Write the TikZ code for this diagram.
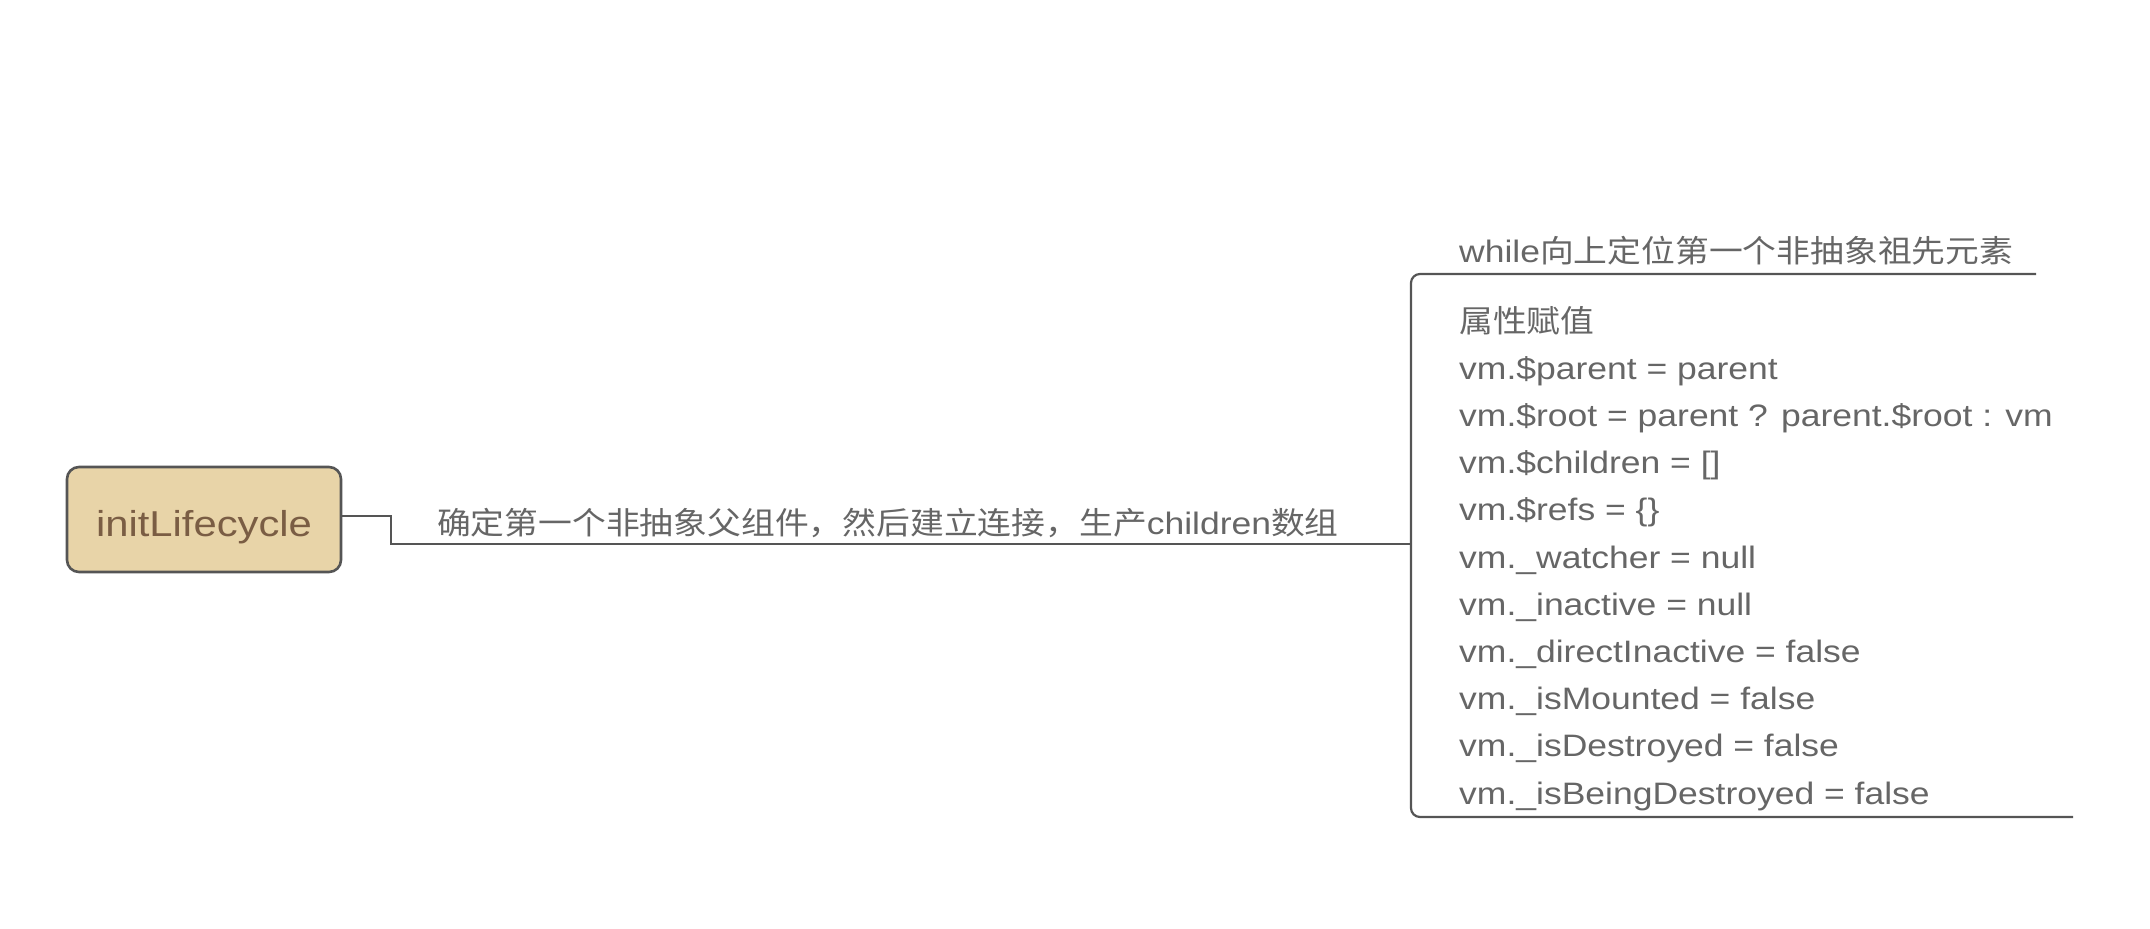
\documentclass[tikz,border=0pt]{standalone}
\usepackage{fontspec}
\setmainfont{Liberation Sans}[FakeStretch=1.145]
\newfontfamily\zh{Noto Sans CJK SC}[FakeStretch=1.09]
\newfontfamily\rootfont{Liberation Sans}[FakeStretch=1.16]
\definecolor{linec}{HTML}{555555}
\definecolor{txtc}{HTML}{666666}
\definecolor{rootfill}{HTML}{E8D4A8}
\definecolor{roottxt}{HTML}{7A5D44}
\tikzset{
  conn/.style={draw=linec, line width=2.2pt},
  leaf/.style={anchor=base west, inner sep=0pt, text=txtc, font=\fontsize{31}{37}\selectfont},
  rootbox/.style={draw=linec, line width=2.6pt, fill=rootfill, rounded corners=12pt,
    minimum width=274pt, minimum height=105pt, inner sep=0pt, text height=33pt, text depth=0pt,
    text=roottxt, font=\rootfont\fontsize{36}{40}\selectfont}
}
\begin{document}
\begin{tikzpicture}[x=1pt,y=-1pt]
\useasboundingbox (0,0) rectangle (2150,929);
\node[rootbox] (root) at (204,519.5) {initLifecycle};
\node[leaf] (lab) at (437,534) {{\zh 确定第一个非抽象父组件，然后建立连接，生产}children{\zh 数组}};
\coordinate (step) at (391,544);
\coordinate (hub) at (1411,544);
\node[leaf] (c1) at (1459,262) {while{\zh 向上定位第一个非抽象祖先元素}};
\coordinate (c1end) at (2036,274);
\coordinate (c2end) at (2073,817);
\node[leaf] (l0) at (1459,332.0) {{\zh 属性赋值}};
\node[leaf] (l1) at (1459,379.2) {vm.\$parent = parent};
\node[leaf] (l2) at (1459,426.4) {vm.\$root = parent ? parent.\$root : vm};
\node[leaf] (l3) at (1459,473.6) {vm.\$children = []};
\node[leaf] (l4) at (1459,520.8) {vm.\$refs = \{\}};
\node[leaf] (l5) at (1459,568.0) {vm.\_watcher = null};
\node[leaf] (l6) at (1459,615.2) {vm.\_inactive = null};
\node[leaf] (l7) at (1459,662.4) {vm.\_directInactive = false};
\node[leaf] (l8) at (1459,709.6) {vm.\_isMounted = false};
\node[leaf] (l9) at (1459,756.8) {vm.\_isDestroyed = false};
\node[leaf] (l10) at (1459,804.0) {vm.\_isBeingDestroyed = false};
\draw[conn] (root.east |- 0,516) -- (391,516) -- (step) -- (hub);
\draw[conn, rounded corners=9pt] (c1end) -- (hub |- c1end) -- (hub |- c2end) -- (c2end);
\end{tikzpicture}
\end{document}
